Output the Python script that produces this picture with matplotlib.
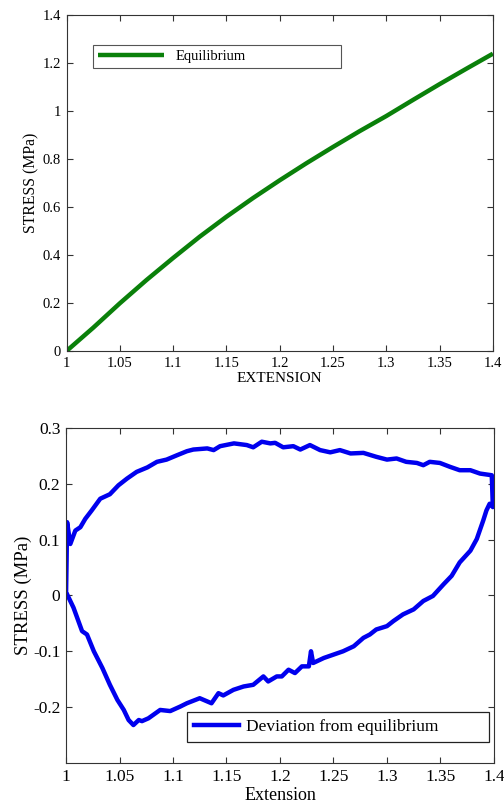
import numpy as np
import matplotlib
matplotlib.use("Agg")
import matplotlib.pyplot as plt

plt.rcParams['font.family'] = ['Liberation Serif', 'DejaVu Serif']

# equilibrium stress vs extension (top panel)
eq_ext = [1.0, 1.025, 1.05, 1.075, 1.1, 1.125, 1.15, 1.175, 1.2, 1.225,
          1.25, 1.275, 1.3, 1.325, 1.35, 1.375, 1.4]
eq_stress = [0.0, 0.097, 0.199, 0.296, 0.388, 0.477, 0.560, 0.638, 0.712, 0.783,
             0.851, 0.917, 0.980, 1.047, 1.113, 1.177, 1.240]

# deviation from equilibrium loop (bottom panel): upper branch out to 1.4
up_ext = [1.000, 1.0005, 1.001, 1.004, 1.0087, 1.0134, 1.018, 1.024, 1.032, 1.041,
          1.049, 1.057, 1.066, 1.076, 1.085, 1.094, 1.104, 1.113, 1.119, 1.132,
          1.138, 1.144, 1.157, 1.169, 1.175, 1.183, 1.191, 1.1955, 1.203, 1.2125,
          1.219, 1.228, 1.2375, 1.247, 1.256, 1.266, 1.278, 1.290, 1.300, 1.309,
          1.318, 1.328, 1.334, 1.340, 1.3495, 1.359, 1.368, 1.378, 1.387, 1.398,
          1.399]
up_stress = [0.000, 0.060, 0.131, 0.092, 0.116, 0.122, 0.137, 0.152, 0.173, 0.181,
             0.197, 0.209, 0.221, 0.229, 0.239, 0.243, 0.251, 0.258, 0.261, 0.263,
             0.260, 0.267, 0.272, 0.269, 0.265, 0.275, 0.272, 0.273, 0.265, 0.267,
             0.261, 0.269, 0.260, 0.256, 0.260, 0.254, 0.255, 0.248, 0.243, 0.245,
             0.239, 0.237, 0.233, 0.239, 0.237, 0.230, 0.224, 0.224, 0.218, 0.215,
             0.158]
# lower branch back to 1.0
down_ext = [1.396, 1.393, 1.390, 1.384, 1.378, 1.368, 1.3605, 1.353, 1.343, 1.334,
            1.325, 1.315, 1.306, 1.300, 1.290, 1.284, 1.278, 1.269, 1.259, 1.250,
            1.241, 1.231, 1.229, 1.227, 1.2205, 1.214, 1.208, 1.2017, 1.197, 1.189,
            1.1845, 1.175, 1.166, 1.1565, 1.147, 1.1425, 1.136, 1.125, 1.113, 1.1067,
            1.0974, 1.088, 1.077, 1.071, 1.068, 1.063, 1.0585, 1.054, 1.048, 1.041,
            1.034, 1.026, 1.0196, 1.015, 1.007, 1.001, 1.000]
down_stress = [0.164, 0.152, 0.134, 0.101, 0.080, 0.059, 0.035, 0.020, -0.001, -0.010,
               -0.025, -0.034, -0.046, -0.055, -0.061, -0.070, -0.076, -0.091, -0.100, -0.106,
               -0.112, -0.121, -0.100, -0.127, -0.127, -0.139, -0.133, -0.145, -0.145, -0.154,
               -0.145, -0.160, -0.163, -0.169, -0.179, -0.175, -0.193, -0.184, -0.193, -0.199,
               -0.207, -0.205, -0.220, -0.225, -0.223, -0.232, -0.223, -0.205, -0.187, -0.160,
               -0.130, -0.100, -0.070, -0.064, -0.022, 0.002, 0.004]

x_ticks = [1, 1.05, 1.1, 1.15, 1.2, 1.25, 1.3, 1.35, 1.4]
x_labels = ['1', '1.05', '1.1', '1.15', '1.2', '1.25', '1.3', '1.35', '1.4']
top_yticks = [0, 0.2, 0.4, 0.6, 0.8, 1.0, 1.2, 1.4]
top_ylabels = ['0', '0.2', '0.4', '0.6', '0.8', '1', '1.2', '1.4']
bot_yticks = [-0.2, -0.1, 0, 0.1, 0.2, 0.3]
bot_ylabels = ['-0.2', '-0.1', '0', '0.1', '0.2', '0.3']

fig = plt.figure(figsize=(5.04, 8.06), dpi=100)
ax1 = fig.add_axes([0.132, 0.5645, 0.846, 0.4165])
ax2 = fig.add_axes([0.131, 0.0533, 0.849, 0.416])


def style(ax, fs):
    ax.tick_params(direction='in', top=True, right=True, length=4, width=0.8,
                   labelsize=fs, pad=4, colors='#333333', labelcolor='black')
    for s in ax.spines.values():
        s.set_color('#333333')
        s.set_linewidth(0.8)


ax1.plot(eq_ext, eq_stress, color='#0a800a', lw=3.2, label='Equilibrium',
         solid_capstyle='butt')
ax1.set_xlim(1, 1.4)
ax1.set_ylim(0, 1.4)
ax1.set_xticks(x_ticks, x_labels)
ax1.set_yticks(top_yticks, top_ylabels)
ax1.set_xlabel('EXTENSION', fontsize=11, labelpad=2)
ax1.set_ylabel('STRESS (MPa)', fontsize=11.3, labelpad=2)
style(ax1, 10.5)
leg1 = ax1.legend(loc='upper left', bbox_to_anchor=(0.062, 0.838, 0.581, 0.074),
                  mode='expand', fontsize=10.5, handlelength=4.5, fancybox=False,
                  framealpha=1, edgecolor='#555555', borderpad=0.35,
                  borderaxespad=0)
leg1.get_frame().set_linewidth(0.8)

dev_ext = up_ext + down_ext
dev_stress = up_stress + down_stress
ax2.plot(dev_ext, dev_stress, color='#0000ee', lw=3.2,
         label='Deviation from equilibrium')
ax2.set_xlim(1, 1.4)
ax2.set_ylim(-0.3, 0.3)
ax2.set_xticks(x_ticks, x_labels)
ax2.set_yticks(bot_yticks, bot_ylabels)
ax2.set_xlabel('Extension', fontsize=13, labelpad=2)
ax2.set_ylabel('STRESS (MPa)', fontsize=13.5, labelpad=1)
style(ax2, 12.5)
leg2 = ax2.legend(loc='lower left', bbox_to_anchor=(0.283, 0.062, 0.706, 0.086),
                  mode='expand', fontsize=12.5, handlelength=2.6, fancybox=False,
                  framealpha=1, edgecolor='#222222', borderpad=0.4,
                  handletextpad=0.4, borderaxespad=0)
leg2.get_frame().set_linewidth(0.9)

fig.savefig('out.png', dpi=100)
